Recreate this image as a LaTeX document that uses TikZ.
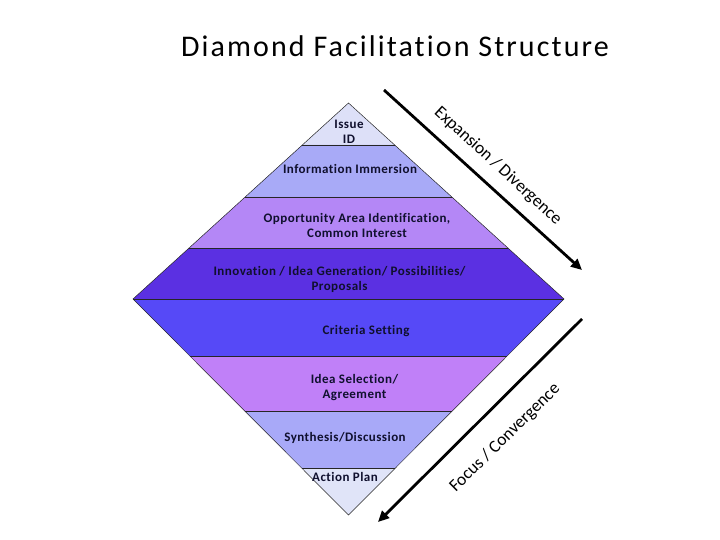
\documentclass[tikz,border=0pt]{standalone}
\usepackage{fontspec}
\setmainfont[Ligatures=NoCommon]{Carlito}
\newfontfamily\titlefont[LetterSpace=7,Ligatures=NoCommon]{Carlito}
\newfontfamily\lblfont[LetterSpace=3.5,Ligatures=NoCommon]{Carlito}
\usetikzlibrary{arrows.meta}
\definecolor{bIssue}{HTML}{DDE0F8}
\definecolor{bInfo}{HTML}{A8AAF7}
\definecolor{bOpp}{HTML}{B487F6}
\definecolor{bInno}{HTML}{5B30E2}
\definecolor{bCrit}{HTML}{5649F7}
\definecolor{bSel}{HTML}{C080F8}
\definecolor{bSyn}{HTML}{A8A9F8}
\definecolor{bAct}{HTML}{E0E4F8}
\definecolor{lbltxt}{HTML}{10102E}
\tikzset{
  band/.style={draw=black!85, line width=0.5pt, line join=miter},
  lbl/.style={font=\lblfont\bfseries\fontsize{13}{15.5}\selectfont, text=lbltxt, align=center, inner sep=0pt},
  sidelbl/.style={font=\fontsize{17.5}{20}\selectfont, text=black, inner sep=0pt},
  bigarrow/.style={line width=2.8pt, -{Triangle[length=11pt,width=10pt]}, black},
}
\begin{document}
\begin{tikzpicture}[x=1pt,y=-1pt]
\useasboundingbox (0,0) rectangle (720,540);
% title
\node[font=\titlefont\fontsize{30}{34}\selectfont, anchor=base] (title) at (395,57) {Diamond Facilitation Structure};
% upper half
\fill[bIssue] (348.5,103) -- (394.7,145) -- (302.3,145) -- cycle;
\fill[bInfo] (302.3,145) -- (394.7,145) -- (451.9,197) -- (245.1,197) -- cycle;
\fill[bOpp] (245.1,197) -- (451.9,197) -- (507.9,248) -- (189.1,248) -- cycle;
\fill[bInno] (189.1,248) -- (507.9,248) -- (564,299) -- (133,299) -- cycle;
% lower half
\fill[bCrit] (133,299) -- (564,299) -- (507.1,356) -- (189.9,356) -- cycle;
\fill[bSel] (189.9,356) -- (507.1,356) -- (452.3,411) -- (244.7,411) -- cycle;
\fill[bSyn] (244.7,411) -- (452.3,411) -- (395.4,468) -- (301.6,468) -- cycle;
\fill[bAct] (301.6,468) -- (395.4,468) -- (348.5,515) -- cycle;
% outlines
\draw[band] (348.5,103) -- (564,299) -- (348.5,515) -- (133,299) -- cycle;
\draw[band] (302.3,145) -- (394.7,145);
\draw[band] (245.1,197) -- (451.9,197);
\draw[band] (189.1,248) -- (507.9,248);
\draw[band] (133,299) -- (564,299);
\draw[band] (189.9,356) -- (507.1,356);
\draw[band] (244.7,411) -- (452.3,411);
\draw[band] (301.6,468) -- (395.4,468);
% labels
\node[lbl] (issue) at (349,132) {Issue\\ID};
\node[lbl] (info) at (350,169) {Information Immersion};
\node[lbl] (opp) at (357,225.5) {Opportunity Area Identification,\\Common Interest};
\node[lbl] (inno) at (339.5,279.5) {Innovation / Idea Generation/ Possibilities/\\Proposals};
\node[lbl] (crit) at (366,331) {Criteria Setting};
\node[lbl] (sel) at (354.5,387.5) {Idea Selection/\\Agreement};
\node[lbl] (syn) at (345,438) {Synthesis/Discussion};
\node[lbl] (act) at (345,477) {Action Plan};
% arrows
\coordinate (expS) at (384,90);
\coordinate (expE) at (582,270);
\coordinate (focS) at (582,319);
\coordinate (focE) at (378,522);
\draw[bigarrow] (expS) -- (expE);
\draw[bigarrow] (focS) -- (focE);
\node[sidelbl, rotate=-42.5] (exp) at (498,166) {Expansion / Divergence};
\node[sidelbl, rotate=44.5] (foc) at (505,438) {Focus / Convergence};
\end{tikzpicture}
\end{document}
